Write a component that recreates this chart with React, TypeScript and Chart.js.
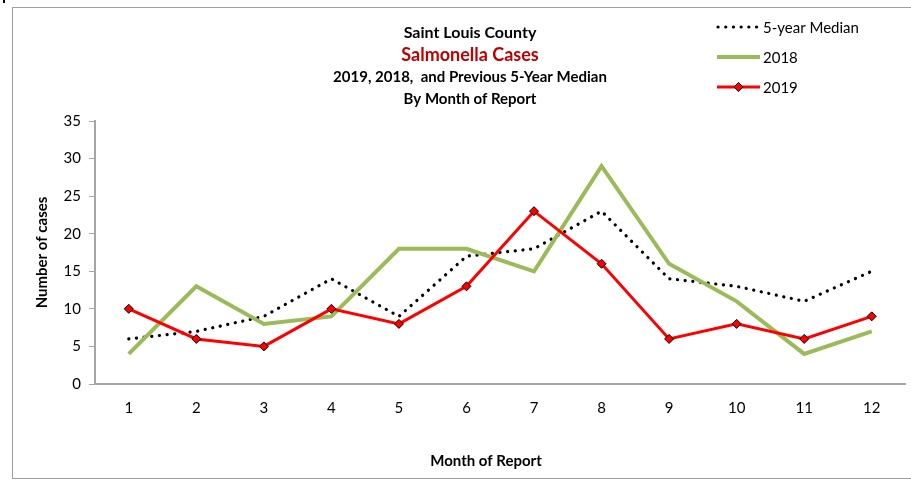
import React, { useEffect, useRef } from "react";
import { Chart, registerables } from "chart.js";

Chart.register(...registerables);

const months = ["1", "2", "3", "4", "5", "6", "7", "8", "9", "10", "11", "12"];
const median5yr = [6, 7, 9, 14, 9, 17, 18, 23, 14, 13, 11, 15];
const cases2018 = [4, 13, 8, 9, 18, 18, 15, 29, 16, 11, 4, 7];
const cases2019 = [10, 6, 5, 10, 8, 13, 23, 16, 6, 8, 6, 9];

const titleLines = [
  "Saint Louis County",
  "Salmonella Cases",
  "2019, 2018,  and Previous 5-Year Median",
  "By Month of Report",
];
const legendLabels = ["5-year Median", "2018", "2019"];
const xTitle = "Month of Report";
const yTitle = "Number of cases";

const FONT = "Lato, 'Open Sans', sans-serif";
const GREEN = "#9bbb59";
const RED = "#ff0000";
const AXIS = "#a6a6a6";

const decorPlugin = {
  id: "decor",
  beforeDraw(chart: any) {
    const ctx = chart.ctx;
    ctx.save();
    ctx.fillStyle = "#ffffff";
    ctx.fillRect(0, 0, chart.width, chart.height);
    ctx.strokeStyle = "#a0a0a0";
    ctx.lineWidth = 1;
    ctx.strokeRect(12.5, 7.5, chart.width + 10, 471);
    ctx.fillStyle = "#000";
    ctx.fillRect(3, 0, 2, 3);
    ctx.restore();
  },
  afterDraw(chart: any) {
    const ctx = chart.ctx;
    ctx.save();
    ctx.textAlign = "center";
    ctx.textBaseline = "middle";
    const cx = 470;
    const specs = [
      { y: 33, size: 16, color: "#000" },
      { y: 55, size: 18, color: "#c00000" },
      { y: 77, size: 15, color: "#000" },
      { y: 99, size: 15, color: "#000" },
    ];
    titleLines.forEach((t, i) => {
      const s = specs[i];
      ctx.font = `bold ${s.size}px ${FONT}`;
      ctx.fillStyle = s.color;
      ctx.fillText(t, cx, s.y);
    });
    // x axis title
    ctx.font = `bold 15px ${FONT}`;
    ctx.fillStyle = "#000";
    ctx.fillText(xTitle, 486, 461);
    // legend
    const lx0 = 717;
    const lx1 = 760;
    const ys = [27, 57, 87];
    ctx.textAlign = "left";
    ctx.font = `15px ${FONT}`;
    legendLabels.forEach((t, i) => {
      ctx.fillStyle = "#000";
      ctx.fillText(t, 763, ys[i] + 1);
    });
    ctx.strokeStyle = "#000";
    ctx.lineWidth = 3.2;
    ctx.lineCap = "round";
    ctx.setLineDash([0.1, 7.6]);
    ctx.beginPath();
    ctx.moveTo(718, ys[0]);
    ctx.lineTo(760, ys[0]);
    ctx.stroke();
    ctx.setLineDash([]);
    ctx.lineCap = "butt";
    ctx.strokeStyle = GREEN;
    ctx.lineWidth = 4;
    ctx.beginPath();
    ctx.moveTo(lx0, ys[1]);
    ctx.lineTo(lx1, ys[1]);
    ctx.stroke();
    ctx.strokeStyle = RED;
    ctx.lineWidth = 3;
    ctx.beginPath();
    ctx.moveTo(lx0, ys[2]);
    ctx.lineTo(lx1, ys[2]);
    ctx.stroke();
    const mx = 738.5;
    const r = 4.5;
    ctx.fillStyle = RED;
    ctx.strokeStyle = "#000";
    ctx.lineWidth = 1;
    ctx.beginPath();
    ctx.moveTo(mx, ys[2] - r);
    ctx.lineTo(mx + r, ys[2]);
    ctx.lineTo(mx, ys[2] + r);
    ctx.lineTo(mx - r, ys[2]);
    ctx.closePath();
    ctx.fill();
    ctx.stroke();
    ctx.restore();
  },
};

export default function App() {
  const ref = useRef<HTMLCanvasElement>(null);
  useEffect(() => {
    if (!ref.current) return;
    const chart = new Chart(ref.current, {
      type: "line",
      data: {
        labels: months,
        datasets: [
          {
            label: legendLabels[0],
            data: median5yr,
            borderColor: "#000",
            borderWidth: 3.2,
            borderDash: [0.1, 7.6],
            borderCapStyle: "round",
            pointRadius: 0,
            fill: false,
            tension: 0,
            order: 3,
          },
          {
            label: legendLabels[1],
            data: cases2018,
            borderColor: GREEN,
            borderWidth: 4,
            pointRadius: 0,
            fill: false,
            tension: 0,
            order: 2,
          },
          {
            label: legendLabels[2],
            data: cases2019,
            borderColor: RED,
            borderWidth: 3,
            pointStyle: "rectRot",
            pointRadius: 4.5,
            pointBackgroundColor: RED,
            pointBorderColor: "#000",
            pointBorderWidth: 1,
            fill: false,
            tension: 0,
            order: 1,
          },
        ],
      },
      options: {
        animation: false,
        responsive: true,
        maintainAspectRatio: false,
        layout: { padding: { left: 13, right: -5, top: 121, bottom: 0 } },
        plugins: {
          legend: { display: false },
          title: { display: false },
          tooltip: { enabled: false },
        },
        scales: {
          x: {
            offset: true,
            afterFit: (s: any) => {
              s.height = 98;
            },
            grid: { display: true, drawOnChartArea: false, drawTicks: false, color: AXIS },
            border: { display: true, color: AXIS, width: 2 },
            ticks: { color: "#000", font: { family: FONT, size: 15 }, padding: 15 },
          },
          y: {
            min: 0,
            max: 35,
            afterFit: (s: any) => {
              s.width = 82;
            },
            grid: { display: true, drawOnChartArea: false, drawTicks: true, tickLength: 6, color: AXIS },
            border: { display: true, color: AXIS, width: 2 },
            ticks: { stepSize: 5, color: "#000", font: { family: FONT, size: 15 }, padding: 8 },
            title: {
              display: true,
              text: yTitle,
              color: "#000",
              font: { family: FONT, size: 15, weight: "bold" },
              padding: { top: 20, bottom: 0 },
            },
          },
        },
      },
      plugins: [decorPlugin],
    });
    return () => chart.destroy();
  }, []);
  return (
    <div style={{ position: "fixed", left: 0, top: 0, width: 911, height: 482 }}>
      <canvas ref={ref} />
    </div>
  );
}
